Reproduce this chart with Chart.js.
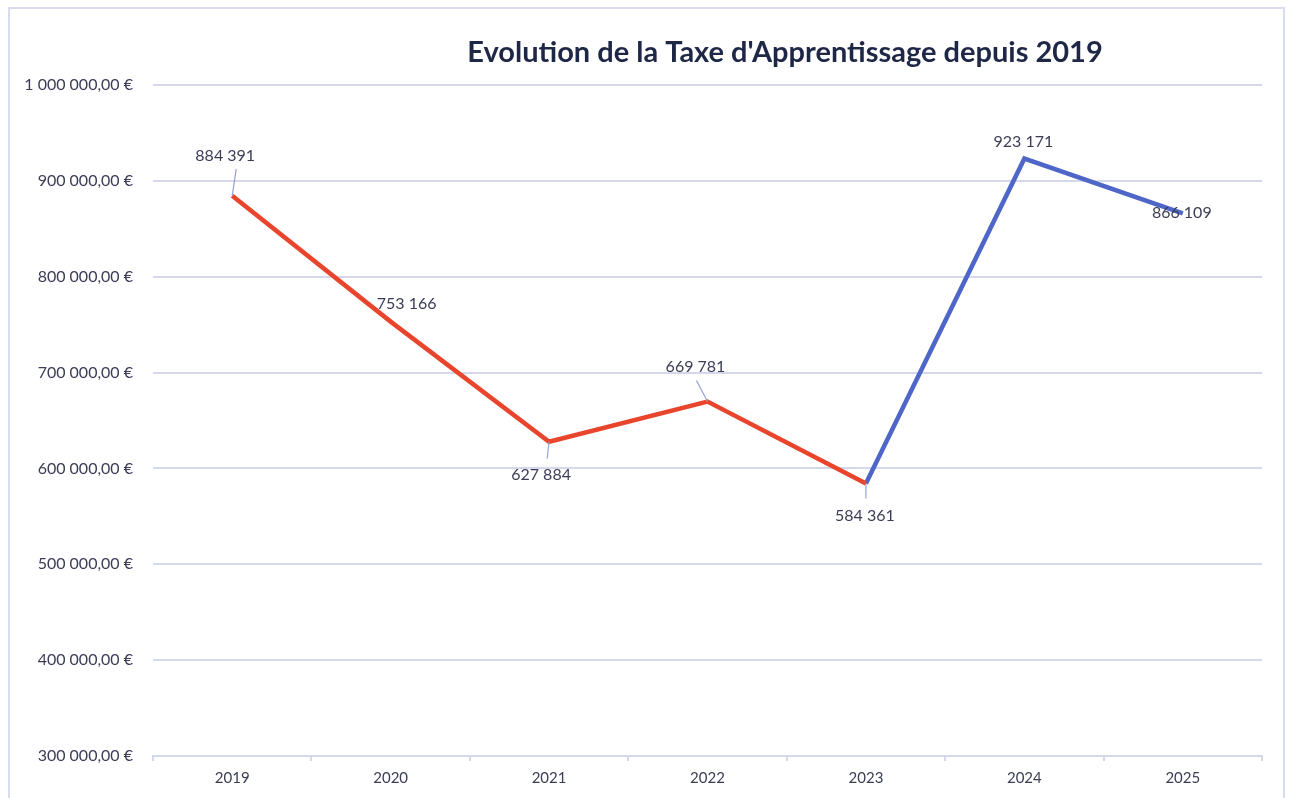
<!DOCTYPE html>
<html>
<head>
<meta charset="utf-8">
<script src="https://cdn.jsdelivr.net/npm/chart.js@4"></script>
<style>
  html, body { margin: 0; padding: 0; background: #fff; }
  #wrap { position: relative; width: 1289px; height: 798px; overflow: hidden; }
  #frame { position: absolute; left: 8px; top: 7px; width: 1277px; height: 820px; border: 2px solid #D9DBEE; box-sizing: border-box; }
  canvas { position: absolute; left: 0; top: 0; }
</style>
</head>
<body>
<div id="wrap">
  <div id="frame"></div>
  <canvas id="line_chart" width="1289" height="798"></canvas>
</div>
<script>
  // Data
  const years = ["2019", "2020", "2021", "2022", "2023", "2024", "2025"];
  const taxe = [884391, 753166, 627884, 669781, 584361, 923171, 866109];
  const baisse = [884391, 753166, 627884, 669781, 584361, null, null];
  const hausse = [null, null, null, null, 584361, 923171, 866109];
  const chartTitle = "Evolution de la Taxe d'Apprentissage depuis 2019";

  const textColor = '#3A3D55';
  const gridColor = '#D5D8EC';
  const fontFamily = 'Lato, "Open Sans", sans-serif';

  // where each value label sits relative to its point: [dx, dy, leader end dx, leader end dy]
  const labelPlacement = [
    [-7, -40, 4, -27],
    [16, -18, null, null],
    [-8, 33, -2, 17],
    [-12, -35, -11, -21],
    [-1, 32, 0, 15],
    [-1, -17, null, null],
    [-1, -1, null, null]
  ];

  const fmt = (v, dec) => {
    const parts = v.toFixed(dec).split('.');
    const ent = parts[0].replace(/\B(?=(\d{3})+(?!\d))/g, ' ');
    return parts[1] ? ent + ',' + parts[1] : ent;
  };

  const titlePlugin = {
    id: 'titlePlugin',
    afterDraw(chart) {
      const ctx = chart.ctx;
      ctx.save();
      ctx.font = 'bold 29px ' + fontFamily;
      ctx.fillStyle = '#1F2747';
      ctx.textAlign = 'center';
      ctx.textBaseline = 'middle';
      ctx.fillText(chartTitle, 785, 53);
      ctx.restore();
    }
  };

  const valueLabels = {
    id: 'valueLabels',
    afterDatasetsDraw(chart) {
      const ctx = chart.ctx;
      const xs = chart.scales.x;
      const ys = chart.scales.y;
      ctx.save();
      ctx.font = '16px ' + fontFamily;
      ctx.fillStyle = textColor;
      ctx.textAlign = 'center';
      ctx.textBaseline = 'middle';
      ctx.strokeStyle = '#97A3D6';
      ctx.lineWidth = 1.2;
      taxe.forEach((v, i) => {
        const px = xs.getPixelForValue(i);
        const py = ys.getPixelForValue(v);
        const p = labelPlacement[i];
        if (p[2] !== null) {
          ctx.beginPath();
          ctx.moveTo(px, py);
          ctx.lineTo(px + p[2], py + p[3]);
          ctx.stroke();
        }
        ctx.fillText(fmt(v, 0), px + p[0], py + p[1]);
      });
      ctx.restore();
    }
  };

  const ctx = document.getElementById('line_chart').getContext('2d');
  new Chart(ctx, {
    type: 'line',
    data: {
      labels: years,
      datasets: [
        {
          label: 'baisse',
          data: baisse,
          borderColor: '#E8452C',
          borderWidth: 4.5,
          pointRadius: 0,
          tension: 0,
          spanGaps: false
        },
        {
          label: 'hausse',
          data: hausse,
          borderColor: '#4E66C8',
          borderWidth: 4.5,
          pointRadius: 0,
          tension: 0,
          spanGaps: false
        }
      ]
    },
    options: {
      responsive: false,
      animation: false,
      layout: { padding: { top: 85, right: 27, left: 0, bottom: 0 } },
      plugins: {
        legend: { display: false },
        tooltip: { enabled: false },
        title: { display: false }
      },
      scales: {
        x: {
          offset: true,
          afterFit: (scale) => { scale.height = 42; },
          grid: {
            offset: true,
            drawOnChartArea: false,
            drawTicks: true,
            tickLength: 5,
            color: gridColor,
            lineWidth: 2
          },
          border: { display: true, color: gridColor, width: 2 },
          ticks: {
            color: textColor,
            font: { family: fontFamily, size: 15 },
            padding: 8,
            maxRotation: 0
          }
        },
        y: {
          min: 300000,
          max: 1000000,
          afterFit: (scale) => { scale.width = 153; },
          grid: {
            drawTicks: false,
            color: gridColor,
            lineWidth: 2
          },
          border: { display: false },
          ticks: {
            stepSize: 100000,
            color: textColor,
            font: { family: fontFamily, size: 16 },
            padding: 20,
            callback: (v) => fmt(v, 2) + ' €'
          }
        }
      }
    },
    plugins: [titlePlugin, valueLabels]
  });
</script>
</body>
</html>
